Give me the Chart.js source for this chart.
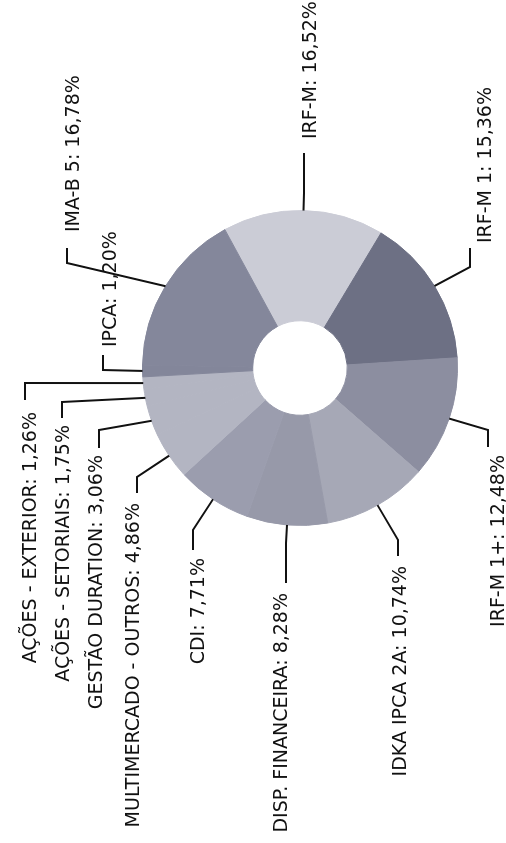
<!DOCTYPE html>
<html>
<head>
<meta charset="utf-8">
<script src="https://cdn.jsdelivr.net/npm/chart.js@4"></script>
<style>
    html, body { margin: 0; padding: 0; background: #fff; overflow: hidden; }
    /* the whole chart is printed sideways, so draw it flat and turn it */
    #wrap {
        position: absolute; left: 0; top: 0;
        width: 843px; height: 506px;
        transform-origin: 0 0;
        transform: translateY(843px) rotate(-90deg);
    }
</style>
</head>
<body>
<div id="wrap"><canvas id="pieChart" width="843" height="506"></canvas></div>
<script>
const labels = ['IRF-M', 'IRF-M 1', 'IRF-M 1+', 'IDKA IPCA 2A', 'DISP. FINANCEIRA', 'CDI',
    'MULTIMERCADO - OUTROS', 'GESTÃO DURATION', 'AÇÕES - SETORIAIS', 'AÇÕES - EXTERIOR', 'IPCA', 'IMA-B 5'];
const values = [16.52, 15.36, 12.48, 10.74, 8.28, 7.71, 4.86, 3.06, 1.75, 1.26, 1.20, 16.78];
const colors = ['#cbccd6', '#6d7084', '#8c8ea0', '#a6a8b6', '#9799a9', '#9b9dae',
    '#b3b5c2', '#b3b5c2', '#b3b5c2', '#b3b5c2', '#83869a', '#84879b'];

// label placement, relative to the doughnut centre:
// [elbow dx, elbow dy, end of short segment dx, text dx, text top dy, align]
const labelLayout = [
    [175, 4, 215, 229, 2, 'left'],
    [101, 170, 120, 125, 177, 'left'],
    [-62, 188, -79, -87, 190, 'right'],
    [-172, 98, -188, -198, 92, 'right'],
    [-175, -14, -215, -225, -27, 'right'],
    [-162, -107, -182, -190, -110, 'right'],
    [-109, -163, -125, -135, -175, 'right'],
    [-62, -201, -80, -87, -212, 'right'],
    [-34, -238, -50, -57, -245, 'right'],
    [-15, -275, -32, -44, -278, 'right'],
    [-2, -197, 13, 21, -198, 'left'],
    [105, -233, 120, 136, -235, 'left']
];

function fmt(v) {
    return v.toFixed(2).replace('.', ',') + '%';
}

const leaderLabels = {
    id: 'leaderLabels',
    afterDraw(chart) {
        const c = chart.ctx;
        const meta = chart.getDatasetMeta(0);
        c.save();
        c.strokeStyle = '#111';
        c.lineWidth = 2;
        c.fillStyle = '#111';
        c.font = '19px "DejaVu Sans"';
        c.textBaseline = 'alphabetic';
        meta.data.forEach((arc, i) => {
            const mid = (arc.startAngle + arc.endAngle) / 2;
            const sx = arc.x + arc.outerRadius * Math.cos(mid);
            const sy = arc.y + arc.outerRadius * Math.sin(mid);
            const l = labelLayout[i];
            const ex = arc.x + l[0], ey = arc.y + l[1];
            c.beginPath();
            c.moveTo(sx, sy);
            c.lineTo(ex, ey);
            c.lineTo(arc.x + l[2], ey);
            c.stroke();
            c.textAlign = l[5];
            c.fillText(labels[i] + ': ' + fmt(values[i]), arc.x + l[3], arc.y + l[4] + 14);
        });
        c.restore();
    }
};

const ctx = document.getElementById('pieChart').getContext('2d');
const pieChart = new Chart(ctx, {
    type: 'doughnut',
    data: {
        labels: labels,
        datasets: [{
            data: values,
            backgroundColor: colors,
            borderColor: colors,
            borderWidth: 1
        }]
    },
    options: {
        responsive: false,
        animation: false,
        rotation: 61.5,
        cutout: '30%',
        layout: {
            padding: { left: 317, right: 210, top: 142, bottom: 48 }
        },
        plugins: {
            legend: { display: false },
            tooltip: { enabled: false }
        }
    },
    plugins: [leaderLabels]
});
</script>
</body>
</html>
